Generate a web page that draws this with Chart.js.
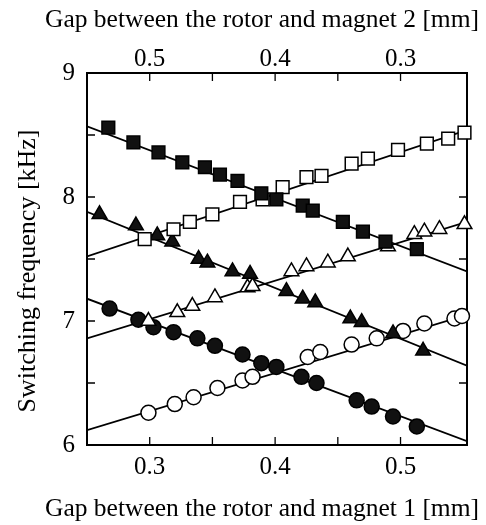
<!DOCTYPE html>
<html>
<head>
<meta charset="utf-8">
<script src="https://cdn.jsdelivr.net/npm/chart.js@4.4.0/dist/chart.umd.min.js"></script>
<style>
  body { margin: 0; background: #fff; }
</style>
</head>
<body>
<canvas id="chart" width="486" height="525"></canvas>
<script>
// gap to magnet 1 [mm] / switching frequency [kHz]
const filledSqX = [0.267, 0.287, 0.307, 0.326, 0.344, 0.356, 0.370, 0.389, 0.401, 0.422, 0.430, 0.454, 0.470, 0.488, 0.513];
const filledSqY = [8.56, 8.44, 8.36, 8.28, 8.24, 8.18, 8.13, 8.03, 7.98, 7.93, 7.89, 7.80, 7.72, 7.64, 7.58];
const openSqX = [0.296, 0.319, 0.332, 0.350, 0.372, 0.390, 0.406, 0.425, 0.437, 0.461, 0.474, 0.498, 0.521, 0.538, 0.551];
const openSqY = [7.66, 7.74, 7.80, 7.86, 7.96, 7.98, 8.08, 8.16, 8.17, 8.27, 8.31, 8.38, 8.43, 8.47, 8.52];
const filledTriX = [0.260, 0.289, 0.306, 0.318, 0.339, 0.346, 0.366, 0.380, 0.409, 0.422, 0.432, 0.460, 0.469, 0.494, 0.518];
const filledTriY = [7.86, 7.77, 7.69, 7.64, 7.50, 7.47, 7.40, 7.38, 7.24, 7.18, 7.15, 7.02, 6.99, 6.90, 6.76];
const openTriX = [0.299, 0.322, 0.334, 0.352, 0.378, 0.382, 0.413, 0.425, 0.442, 0.458, 0.490, 0.511, 0.519, 0.531, 0.551];
const openTriY = [7.00, 7.07, 7.12, 7.19, 7.27, 7.28, 7.40, 7.44, 7.47, 7.52, 7.60, 7.70, 7.72, 7.74, 7.78];
const filledCircX = [0.268, 0.291, 0.303, 0.319, 0.338, 0.352, 0.374, 0.389, 0.401, 0.421, 0.433, 0.465, 0.477, 0.494, 0.513];
const filledCircY = [7.10, 7.01, 6.95, 6.91, 6.86, 6.80, 6.73, 6.66, 6.63, 6.55, 6.50, 6.36, 6.31, 6.23, 6.15];
const openCircX = [0.299, 0.320, 0.335, 0.354, 0.374, 0.382, 0.426, 0.436, 0.461, 0.481, 0.502, 0.519, 0.543, 0.549];
const openCircY = [6.26, 6.33, 6.385, 6.46, 6.52, 6.55, 6.71, 6.75, 6.81, 6.86, 6.92, 6.98, 7.02, 7.04];

// fitted lines, value at the left and right edge of the plot
const fitX = [0.25, 0.553];
const fitFilledSq = [8.57, 7.40];
const fitOpenSq = [7.52, 8.54];
const fitFilledTri = [7.88, 6.64];
const fitOpenTri = [6.86, 7.80];
const fitFilledCirc = [7.18, 6.03];
const fitOpenCirc = [6.12, 7.05];

const xLabelTicks = [0.3, 0.4, 0.5];
const yLabelTicks = [6, 7, 8, 9];
const xMarkTicks = [0.3, 0.35, 0.4, 0.45, 0.5];
const yMarkTicks = [6.5, 7, 7.5, 8, 8.5];

const topTitle = 'Gap between the rotor and magnet 2 [mm]';
const bottomTitle = 'Gap between the rotor and magnet 1 [mm]';
const yTitle = 'Switching frequency [kHz]';

const serif = '"Liberation Serif", "Times New Roman", serif';
const pts = (xs, ys) => xs.map((x, i) => ({ x: x, y: ys[i] }));

const marker = (xs, ys, style, radius, filled) => ({
    data: pts(xs, ys),
    showLine: false,
    pointStyle: style,
    pointRadius: radius,
    pointBackgroundColor: filled ? '#111' : '#fff',
    pointBorderColor: '#000',
    pointBorderWidth: 1.5,
    clip: false
});

const fit = ys => ({
    data: pts(fitX, ys),
    showLine: true,
    pointRadius: 0,
    borderColor: '#000',
    borderWidth: 1.8
});

// frame, inward tick marks and the axis titles (these run wider than the plot)
const framePlugin = {
    id: 'frame',
    beforeDatasetsDraw(chart) {
        const { ctx, chartArea: a, scales } = chart;
        const len = 8;
        ctx.save();
        ctx.strokeStyle = '#000';
        ctx.lineWidth = 2;
        ctx.strokeRect(a.left, a.top, a.right - a.left, a.bottom - a.top);
        ctx.lineWidth = 1.3;
        ctx.beginPath();
        xMarkTicks.forEach(v => {
            const px = scales.x.getPixelForValue(v);
            ctx.moveTo(px, a.bottom); ctx.lineTo(px, a.bottom - len);
            ctx.moveTo(px, a.top); ctx.lineTo(px, a.top + len);
        });
        yMarkTicks.forEach(v => {
            const py = scales.y.getPixelForValue(v);
            ctx.moveTo(a.left, py); ctx.lineTo(a.left + len, py);
            ctx.moveTo(a.right, py); ctx.lineTo(a.right - len, py);
        });
        ctx.stroke();
        ctx.restore();
    },
    afterDraw(chart) {
        const ctx = chart.ctx;
        ctx.save();
        ctx.fillStyle = '#000';
        ctx.textAlign = 'center';
        ctx.textBaseline = 'middle';
        ctx.font = '25.5px ' + serif;
        ctx.fillText(topTitle, 262, 20);
        ctx.fillText(bottomTitle, 262, 509);
        ctx.font = '26px ' + serif;
        ctx.translate(28, 271);
        ctx.rotate(-Math.PI / 2);
        ctx.fillText(yTitle, 0, 0);
        ctx.restore();
    }
};

const tickFont = { family: serif, size: 25 };

new Chart(document.getElementById('chart'), {
    type: 'scatter',
    data: {
        datasets: [
            marker(filledSqX, filledSqY, 'rect', 9, true),
            marker(openSqX, openSqY, 'rect', 9, false),
            marker(filledTriX, filledTriY, 'triangle', 8.5, true),
            marker(openTriX, openTriY, 'triangle', 8.5, false),
            marker(filledCircX, filledCircY, 'circle', 7.5, true),
            marker(openCircX, openCircY, 'circle', 7.5, false),
            fit(fitFilledSq), fit(fitOpenSq), fit(fitFilledTri),
            fit(fitOpenTri), fit(fitFilledCirc), fit(fitOpenCirc)
        ]
    },
    options: {
        responsive: false,
        animation: false,
        layout: { padding: { right: 19 } },
        plugins: { legend: { display: false }, tooltip: { enabled: false } },
        scales: {
            x: {
                type: 'linear', position: 'bottom', min: 0.25, max: 0.553,
                grid: { display: false, drawTicks: false }, border: { display: false },
                afterBuildTicks: s => { s.ticks = xLabelTicks.map(v => ({ value: v })); },
                ticks: { font: tickFont, color: '#000', padding: 7, maxRotation: 0, autoSkip: false,
                    callback: v => v.toFixed(1) },
                afterFit: s => { s.height = 80; }
            },
            x2: {
                type: 'linear', position: 'top', min: 0.25, max: 0.553,
                grid: { display: false, drawTicks: false }, border: { display: false },
                afterBuildTicks: s => { s.ticks = xLabelTicks.map(v => ({ value: v })); },
                ticks: { font: tickFont, color: '#000', padding: -1, maxRotation: 0, autoSkip: false,
                    callback: v => (0.8 - v).toFixed(1) },
                afterFit: s => { s.height = 73; }
            },
            y: {
                type: 'linear', position: 'left', min: 6, max: 9,
                grid: { display: false, drawTicks: false }, border: { display: false },
                afterBuildTicks: s => { s.ticks = yLabelTicks.map(v => ({ value: v })); },
                ticks: { font: tickFont, color: '#000', padding: 12, callback: v => String(v) },
                afterFit: s => { s.width = 87; }
            }
        }
    },
    plugins: [framePlugin]
});
</script>
</body>
</html>
